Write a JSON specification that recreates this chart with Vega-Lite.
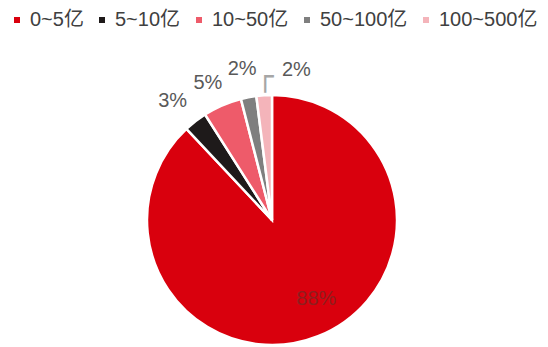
{
  "$schema": "https://vega.github.io/schema/vega-lite/v6.json",
  "width": 250,
  "height": 250,
  "autosize": {"type": "none"},
  "padding": {"left": 147, "top": 95, "right": 151, "bottom": 2},
  "background": "white",
  "config": {"view": {"stroke": null}},
  "data": {
    "values": [
      {"idx": 1, "category": "0~5亿", "value": 88, "label": "88%"},
      {"idx": 2, "category": "5~10亿", "value": 3, "label": "3%"},
      {"idx": 3, "category": "10~50亿", "value": 5, "label": "5%"},
      {"idx": 4, "category": "50~100亿", "value": 2, "label": "2%"},
      {"idx": 5, "category": "100~500亿", "value": 2, "label": "2%"}
    ]
  },
  "encoding": {
    "theta": {"field": "value", "type": "quantitative", "stack": true},
    "order": {"field": "idx", "type": "quantitative"}
  },
  "layer": [
    {
      "mark": {"type": "arc", "outerRadius": 125, "stroke": "white", "strokeWidth": 2.5},
      "encoding": {
        "color": {
          "field": "category",
          "type": "nominal",
          "scale": {
            "domain": ["0~5亿", "5~10亿", "10~50亿", "50~100亿", "100~500亿"],
            "range": ["#D9000D", "#1E1A1A", "#EE5B6A", "#7F7F7F", "#F4B4BA"]
          },
          "legend": {
            "orient": "none",
            "legendX": -140,
            "legendY": -85,
            "direction": "horizontal",
            "title": null,
            "padding": 0,
            "symbolType": "square",
            "symbolSize": 36,
            "symbolStrokeWidth": 0,
            "labelFont": "Liberation Sans, Noto Sans CJK SC",
            "labelFontSize": 20,
            "labelColor": "#404040",
            "labelOffset": 3,
            "columnPadding": 8,
            "labelLimit": 300
          }
        }
      }
    },
    {
      "mark": {"type": "text", "radius": 154, "dx": -5, "dy": 3, "fontSize": 20, "font": "Liberation Sans, Noto Sans CJK SC", "fill": "#595959"},
      "encoding": {
        "text": {"condition": {"test": "datum.idx == 2", "field": "label", "type": "nominal"}, "value": ""}
      }
    },
    {
      "mark": {"type": "text", "radius": 154, "dx": -3, "dy": 4, "fontSize": 20, "font": "Liberation Sans, Noto Sans CJK SC", "fill": "#595959"},
      "encoding": {
        "text": {"condition": {"test": "datum.idx == 3", "field": "label", "type": "nominal"}, "value": ""}
      }
    },
    {
      "mark": {"type": "text", "radius": 154, "dx": -1, "fontSize": 20, "font": "Liberation Sans, Noto Sans CJK SC", "fill": "#595959"},
      "encoding": {
        "text": {"condition": {"test": "datum.idx == 4", "field": "label", "type": "nominal"}, "value": ""}
      }
    },
    {
      "mark": {"type": "text", "radius": 85, "dx": 13, "fontSize": 20, "font": "Liberation Sans, Noto Sans CJK SC", "fill": "#8E1F1F"},
      "encoding": {
        "text": {"condition": {"test": "datum.idx == 1", "field": "label", "type": "nominal"}, "value": ""}
      }
    },
    {
      "mark": {"type": "text", "radius": 154, "dx": 34, "dy": 4, "fontSize": 20, "font": "Liberation Sans, Noto Sans CJK SC", "fill": "#595959"},
      "encoding": {
        "text": {"condition": {"test": "datum.idx == 5", "field": "label", "type": "nominal"}, "value": ""}
      }
    },
    {
      "mark": {"type": "text", "radius": 142, "dx": -6, "dy": 0, "align": "left", "baseline": "middle", "fontSize": 28, "font": "DejaVu Sans Mono", "fill": "#A6A6A6"},
      "encoding": {
        "text": {"condition": {"test": "datum.idx == 5", "value": "┌"}, "value": ""}
      }
    }
  ]
}
